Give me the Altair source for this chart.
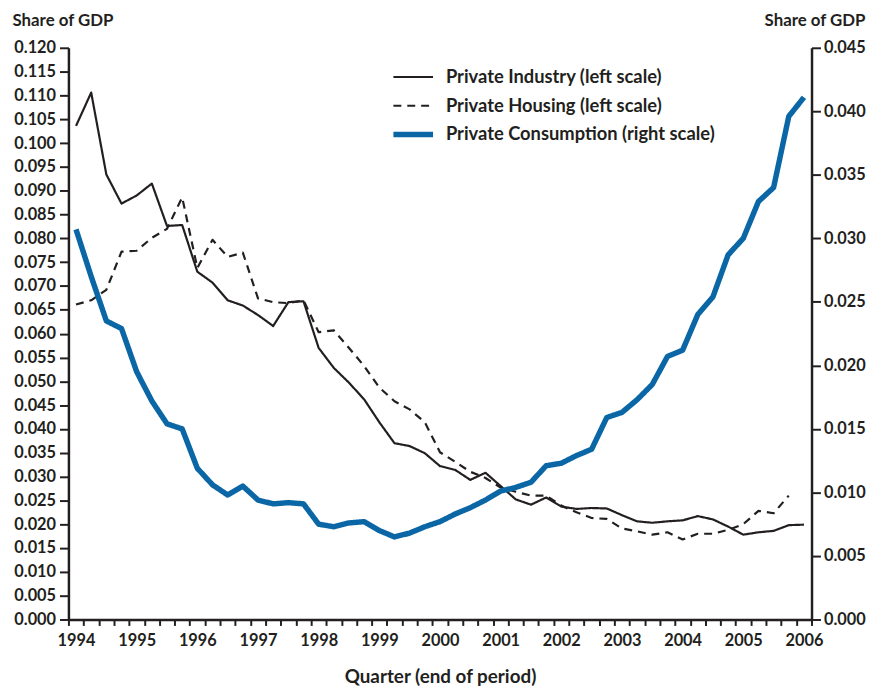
import altair as alt
import pandas as pd

# Quarterly observations, 1994 to 2006 (end of period)
quarters = [1994 + 0.25 * i for i in range(49)]

series_names = [
    "Private Industry (left scale)",
    "Private Housing (left scale)",
    "Private Consumption (right scale)",
]

industry = [
    0.1036, 0.1106, 0.0934, 0.0873,
    0.0890, 0.0915, 0.0826, 0.0828,
    0.0730, 0.0707, 0.0670, 0.0659,
    0.0639, 0.0616, 0.0666, 0.0668,
    0.0570, 0.0528, 0.0497, 0.0462,
    0.0414, 0.0370, 0.0364, 0.0349,
    0.0322, 0.0314, 0.0293, 0.0308,
    0.0280, 0.0252, 0.0241, 0.0256,
    0.0237, 0.0232, 0.0234, 0.0233,
    0.0219, 0.0206, 0.0203, 0.0206,
    0.0208, 0.0217, 0.0210, 0.0195,
    0.0178, 0.0183, 0.0186, 0.0198,
    0.0199,
]

housing = [
    0.0661, 0.0670, 0.0692, 0.0772,
    0.0774, 0.0801, 0.0820, 0.0886,
    0.0738, 0.0797, 0.0761, 0.0770,
    0.0674, 0.0666, 0.0664, 0.0670,
    0.0603, 0.0607, 0.0570, 0.0532,
    0.0487, 0.0458, 0.0441, 0.0414,
    0.0351, 0.0331, 0.0310, 0.0297,
    0.0277, 0.0268, 0.0260, 0.0260,
    0.0239, 0.0225, 0.0213, 0.0211,
    0.0191, 0.0185, 0.0178, 0.0183,
    0.0168, 0.0180, 0.0180, 0.0188,
    0.0200, 0.0228, 0.0223, 0.0260,
]

consumption = [
    0.0307, 0.0270, 0.0235, 0.0229,
    0.0195, 0.0172, 0.0154, 0.0150,
    0.0119, 0.0106, 0.0098, 0.0105,
    0.0094, 0.0091, 0.0092, 0.0091,
    0.0075, 0.0073, 0.0076, 0.0077,
    0.0070, 0.0065, 0.0068, 0.0073,
    0.0077, 0.0083, 0.0088, 0.0094,
    0.0101, 0.0104, 0.0108, 0.0121,
    0.0123, 0.0129, 0.0134, 0.0159,
    0.0163, 0.0173, 0.0185, 0.0207,
    0.0212, 0.0240, 0.0254, 0.0287,
    0.0300, 0.0329, 0.0340, 0.0396,
    0.0411,
]

left_ticks = [round(0.005 * i, 3) for i in range(25)]
right_ticks = [round(0.005 * i, 3) for i in range(10)]
# quarter boundary ticks
x_ticks = [1993.875 + 0.25 * i for i in range(50)]

left_df = pd.concat([
    pd.DataFrame({"q": quarters, "value": industry, "series": series_names[0]}),
    pd.DataFrame({"q": quarters[:len(housing)], "value": housing, "series": series_names[1]}),
])
right_df = pd.DataFrame({"q": quarters, "value": consumption, "series": series_names[2]})

INK = "#231f20"
BLUE = "#0b66a6"
FONT = "Lato"

x_enc = alt.X(
    "q:Q",
    scale=alt.Scale(domain=[1993.875, 2006.125], nice=False, zero=False),
    axis=alt.Axis(
        values=x_ticks,
        labelExpr="(datum.value - 1993.875) % 1 == 0 ? format(datum.value + 0.125, 'd') : ''",
        labelOffset=7.65,
        labelOverlap=False,
        labelFlush=False,
        labelBound=False,
        tickSize=6,
        labelPadding=7,
        title="Quarter (end of period)",
        titleFontSize=19,
        titlePadding=19,
    ),
)

color_enc = alt.Color(
    "series:N",
    scale=alt.Scale(domain=series_names, range=[INK, INK, BLUE]),
    title=None,
)
dash_enc = alt.StrokeDash(
    "series:N",
    scale=alt.Scale(domain=series_names, range=[[1, 0], [8, 6], [1, 0]]),
    title=None,
)
width_enc = alt.StrokeWidth(
    "series:N",
    scale=alt.Scale(type="ordinal", domain=series_names, range=[2.2, 2.2, 5.5]),
    title=None,
)

left = alt.Chart(left_df).mark_line(strokeJoin="round").encode(
    x=x_enc,
    y=alt.Y(
        "value:Q",
        scale=alt.Scale(domain=[0, 0.12], nice=False),
        axis=alt.Axis(
            values=left_ticks,
            format=".3f",
            tickSize=9,
            labelPadding=4,
            title="Share of GDP",
            titleAngle=0,
            titleAlign="left",
            titleBaseline="middle",
            titleX=-57,
            titleY=-27,
        ),
    ),
    color=color_enc,
    strokeDash=dash_enc,
    strokeWidth=width_enc,
    detail="series:N",
)

right = alt.Chart(right_df).mark_line(strokeJoin="round").encode(
    x=x_enc,
    y=alt.Y(
        "value:Q",
        scale=alt.Scale(domain=[0, 0.045], nice=False),
        axis=alt.Axis(
            values=right_ticks,
            format=".3f",
            orient="right",
            tickSize=9,
            labelPadding=3,
            title="Share of GDP",
            titleAngle=0,
            titleAlign="right",
            titleBaseline="middle",
            titleX=54,
            titleY=-27,
        ),
    ),
    color=color_enc,
    strokeDash=dash_enc,
    strokeWidth=width_enc,
)

chart = (
    alt.layer(left, right)
    .resolve_scale(y="independent")
    .properties(
        width=750,
        height=577,
        autosize=alt.AutoSizeParams(type="none"),
        padding={"left": 61, "top": 37, "right": 57, "bottom": 66},
    )
    .configure_view(stroke=None)
    .configure_axis(
        grid=False,
        domainColor=INK,
        domainWidth=2.5,
        tickColor=INK,
        tickWidth=2,
        labelFont=FONT,
        labelFontSize=16.5,
        labelFontWeight="bold",
        labelColor=INK,
        titleFont=FONT,
        titleFontSize=17,
        titleFontWeight="bold",
        titleColor=INK,
    )
    .configure_legend(
        orient="none",
        legendX=325,
        legendY=15,
        padding=0,
        symbolType="stroke",
        symbolSize=1600,
        labelFont=FONT,
        labelFontSize=18.5,
        labelFontWeight="bold",
        labelColor=INK,
        labelOffset=10,
        labelLimit=0,
        clipHeight=29,
        rowPadding=0,
    )
)

chart.save("out.html", embed_options={"renderer": "svg", "actions": False})
